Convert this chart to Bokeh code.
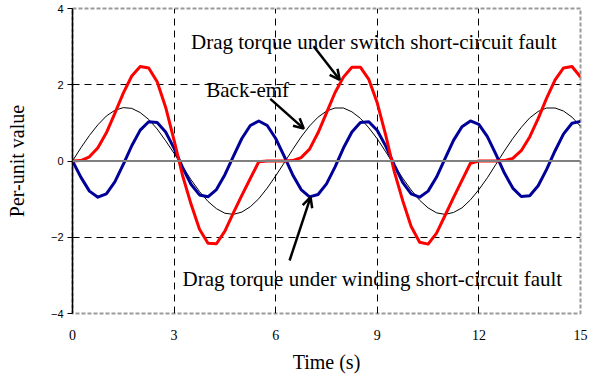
from bokeh.plotting import figure
from bokeh.models import Range1d, FixedTicker, Span, Label, Arrow, OpenHead
from bokeh.embed import file_html
from bokeh.resources import INLINE

# Time samples (s), 0.25 s apart
time_s = [i * 0.25 for i in range(61)]

# Back-emf (per unit)
back_emf = [0.00, 0.35, 0.67, 0.95, 1.18, 1.33, 1.40, 1.38, 1.27, 1.09, 0.84, 0.53, 0.20,
            -0.15, -0.49, -0.80, -1.06, -1.25, -1.37, -1.40, -1.34, -1.20, -0.99, -0.71, -0.39,
            -0.05, 0.30, 0.63, 0.92, 1.15, 1.31, 1.39, 1.39, 1.29, 1.12, 0.87, 0.58,
            0.24, -0.11, -0.45, -0.76, -1.03, -1.23, -1.36, -1.40, -1.35, -1.23, -1.02, -0.75,
            -0.44, -0.09, 0.26, 0.59, 0.88, 1.13, 1.30, 1.39, 1.39, 1.31, 1.15, 0.91]

# Drag torque under winding short-circuit fault (per unit)
winding_fault = [0.00, -0.43, -0.79, -0.95, -0.86, -0.55, -0.09, 0.40, 0.81, 1.03, 1.01, 0.76, 0.33,
                 -0.17, -0.61, -0.89, -0.94, -0.75, -0.36, 0.12, 0.59, 0.93, 1.05, 0.93, 0.59,
                 0.13, -0.36, -0.75, -0.94, -0.88, -0.60, -0.16, 0.34, 0.76, 1.01, 1.03, 0.80,
                 0.39, -0.10, -0.56, -0.86, -0.95, -0.79, -0.42, 0.06, 0.54, 0.90, 1.05, 0.96,
                 0.64, 0.18, -0.31, -0.71, -0.93, -0.91, -0.65, -0.22, 0.27, 0.71, 0.99, 1.04]

# Drag torque under switch short-circuit fault (per unit)
switch_fault = [0.00, 0.01, 0.11, 0.35, 0.74, 1.25, 1.78, 2.23, 2.48, 2.44, 2.08, 1.41, 0.54,
                -0.38, -1.13, -1.79, -2.16, -2.17, -1.84, -1.36, -0.90, -0.46, -0.02, 0.00, 0.00,
                0.00, 0.01, 0.09, 0.31, 0.74, 1.26, 1.79, 2.20, 2.46, 2.46, 2.14, 1.52,
                0.67, -0.27, -1.04, -1.72, -2.13, -2.18, -1.89, -1.43, -0.96, -0.51, -0.06, 0.00,
                0.00, 0.00, 0.01, 0.07, 0.27, 0.63, 1.11, 1.65, 2.13, 2.44, 2.48, 2.20]

x_ticks = [0, 3, 6, 9, 12, 15]
y_ticks = [-4, -2, 0, 2, 4]

SERIF = "Liberation Serif"
SANS = "Liberation Sans"

p = figure(width=601, height=376, output_backend="svg", toolbar_location=None,
           x_range=Range1d(0, 15), y_range=Range1d(-4, 4),
           min_border_left=72, min_border_right=21, min_border_top=8, min_border_bottom=63,
           background_fill_color="white", border_fill_color="white")

p.outline_line_color = "#9a9a9a"
p.outline_line_dash = "4 2"
p.outline_line_width = 2

# grid: dashed interior lines only
p.xgrid.ticker = FixedTicker(ticks=[3, 6, 9, 12])
p.ygrid.ticker = FixedTicker(ticks=[-2, 2])
for g in (p.xgrid, p.ygrid):
    g.grid_line_color = "black"
    g.grid_line_dash = "7 5"
    g.grid_line_width = 1

p.add_layout(Span(location=0, dimension="width", line_color="#808080", line_width=2))

# x axis
p.xaxis.ticker = FixedTicker(ticks=x_ticks)
p.xaxis.axis_line_color = None
p.xaxis.major_tick_line_color = None
p.xaxis.minor_tick_line_color = None
p.xaxis.major_label_standoff = 10
p.xaxis.major_label_text_font = SERIF
p.xaxis.major_label_text_font_size = "14px"
p.xaxis.major_label_text_color = "black"
p.xaxis.axis_label = "Time (s)"
p.xaxis.axis_label_text_font = SERIF
p.xaxis.axis_label_text_font_size = "20px"
p.xaxis.axis_label_text_font_style = "normal"
p.xaxis.axis_label_text_color = "black"
p.xaxis.axis_label_standoff = 8

# y axis
p.yaxis.ticker = FixedTicker(ticks=y_ticks)
p.yaxis.axis_line_color = "black"
p.yaxis.axis_line_width = 1.5
p.yaxis.major_tick_line_color = "black"
p.yaxis.major_tick_out = 5
p.yaxis.major_tick_in = 0
p.yaxis.minor_tick_line_color = None
p.yaxis.major_label_standoff = 4
p.yaxis.major_label_text_font = SANS
p.yaxis.major_label_text_font_size = "11px"
p.yaxis.major_label_text_color = "black"
p.yaxis.axis_label = "Per-unit value"
p.yaxis.axis_label_text_font = SERIF
p.yaxis.axis_label_text_font_size = "20px"
p.yaxis.axis_label_text_font_style = "normal"
p.yaxis.axis_label_text_color = "black"
p.yaxis.axis_label_standoff = 20

# curves
p.line(time_s, back_emf, line_color="black", line_width=1, line_join="round")
p.line(time_s, winding_fault, line_color="#000099", line_width=3, line_join="round")
p.line(time_s, switch_fault, line_color="#ff0000", line_width=3, line_join="round")

# annotations
def note(x, y, text):
    p.add_layout(Label(x=x, y=y, text=text, text_font=SERIF, text_font_size="21px",
                       text_color="black", text_baseline="alphabetic", text_align="left"))

def pointer(x0, y0, x1, y1):
    p.add_layout(Arrow(x_start=x0, y_start=y0, x_end=x1, y_end=y1,
                       line_color="black", line_width=2.5,
                       end=OpenHead(size=10, line_color="black", line_width=2.5)))

note(3.50, 3.11, "Drag torque under switch short-circuit fault")
note(3.95, 1.87, "Back-emf")
note(3.25, -3.10, "Drag torque under winding short-circuit fault")

pointer(7.12, 3.01, 7.89, 2.13)
pointer(5.84, 1.63, 6.83, 0.85)
pointer(6.41, -2.61, 7.03, -0.95)

open("out.html", "w").write(file_html(p, INLINE))
